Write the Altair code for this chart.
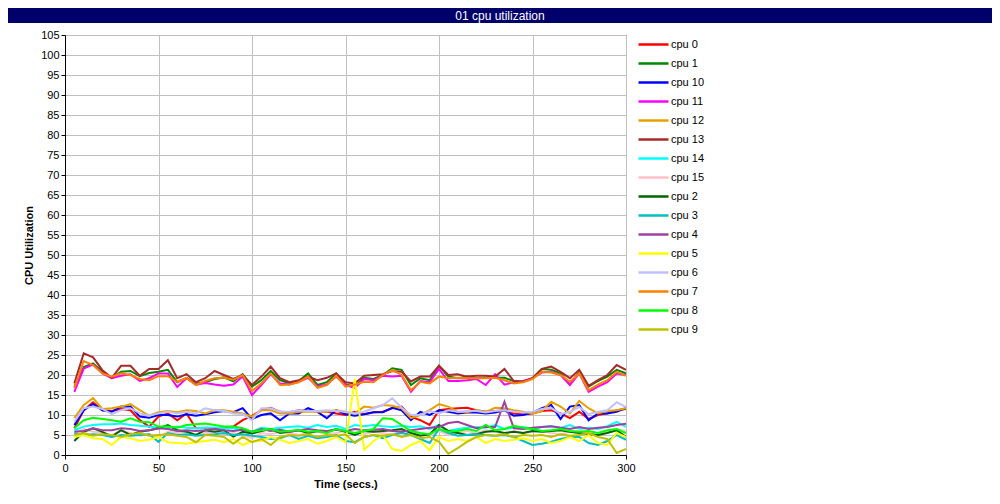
import altair as alt
import pandas as pd

time = list(range(5, 305, 5))

cpu13 = [17.9, 25.4, 24.4, 21.2, 19.3, 22.3, 22.3, 19.8, 21.5, 21.5, 23.7, 19.2, 20.2, 18.2, 19.2, 21.0, 20.0, 19.0, 20.0, 17.5,
         19.6, 22.1, 19.2, 18.2, 18.7, 19.6, 18.7, 19.3, 20.4, 18.2, 17.9, 19.8, 20.0, 20.2, 21.0, 20.8, 18.4, 19.6, 19.6, 22.3,
         20.0, 20.2, 19.6, 19.8, 19.8, 19.6, 21.5, 18.5, 18.3, 19.2, 21.5, 22.1, 20.8, 19.2, 21.3, 17.3, 18.7, 20.0, 22.5, 21.3]
cpu1 = [17.1, 22.0, 22.9, 20.8, 19.3, 20.8, 21.0, 19.7, 20.5, 20.8, 21.3, 18.2, 19.3, 17.9, 18.2, 19.0, 19.4, 18.4, 20.2, 17.1,
        18.7, 21.0, 18.7, 17.9, 18.5, 20.4, 17.5, 18.2, 20.4, 17.6, 17.1, 19.3, 19.0, 20.0, 21.7, 21.3, 17.5, 19.2, 18.7, 22.3,
        19.6, 19.2, 19.6, 19.2, 19.3, 19.3, 19.3, 18.5, 18.3, 19.2, 21.5, 21.3, 20.4, 17.6, 20.8, 17.1, 18.5, 19.6, 21.3, 20.4]
cpu11 = [15.8, 21.6, 22.6, 20.4, 19.2, 19.8, 20.2, 18.5, 19.2, 20.4, 20.4, 17.0, 19.2, 17.6, 18.0, 17.6, 17.3, 17.6, 19.6, 15.0,
         17.5, 20.2, 17.9, 17.6, 18.3, 19.3, 17.1, 17.6, 19.6, 17.5, 16.8, 19.0, 18.7, 19.8, 19.6, 19.8, 15.8, 18.5, 18.2, 21.5,
         18.5, 18.5, 18.7, 19.0, 17.5, 20.2, 17.6, 18.2, 18.5, 19.2, 20.6, 20.8, 20.0, 17.5, 20.4, 15.8, 17.1, 18.2, 20.4, 20.0]
cpu7 = [16.7, 23.5, 22.5, 20.4, 19.6, 20.4, 20.0, 19.0, 18.7, 19.7, 19.7, 18.3, 19.2, 17.5, 18.5, 19.2, 19.3, 18.8, 20.0, 16.0,
        17.9, 20.4, 17.5, 17.6, 18.2, 19.6, 16.8, 17.5, 19.8, 17.1, 17.6, 18.3, 18.2, 20.0, 21.3, 20.0, 16.2, 18.3, 17.9, 19.6,
        19.2, 19.3, 19.2, 19.2, 19.2, 19.3, 18.7, 17.9, 18.2, 19.0, 20.8, 20.6, 20.0, 18.3, 20.4, 16.2, 17.6, 18.7, 20.8, 19.8]
cpu0 = [6.7, 11.2, 13.2, 11.2, 11.0, 11.5, 11.2, 8.7, 7.1, 9.6, 10.4, 8.7, 10.4, 6.7, 6.8, 6.7, 6.7, 7.1, 8.7, 9.8,
        11.2, 11.8, 10.8, 10.7, 11.2, 11.0, 11.0, 10.8, 10.4, 10.0, 10.8, 10.2, 10.7, 10.8, 11.7, 12.1, 9.6, 8.7, 7.5, 11.2,
        11.5, 11.7, 11.8, 11.2, 10.8, 11.0, 11.2, 10.4, 10.2, 10.4, 11.0, 11.2, 10.4, 9.2, 10.8, 9.0, 10.0, 10.4, 11.2, 11.5]
cpu10 = [7.5, 11.2, 12.7, 11.2, 10.8, 12.1, 12.1, 9.6, 9.3, 10.0, 10.0, 9.6, 10.2, 9.8, 10.2, 10.7, 11.0, 10.7, 11.7, 9.0,
         10.0, 10.4, 8.7, 10.4, 10.4, 11.7, 10.8, 9.2, 11.2, 10.2, 9.8, 10.2, 10.7, 10.7, 11.8, 11.2, 8.7, 10.8, 10.0, 11.2,
         10.8, 10.4, 10.6, 10.6, 10.4, 10.6, 11.2, 9.8, 10.0, 10.6, 11.7, 12.5, 9.0, 12.1, 12.5, 8.7, 10.4, 10.4, 10.8, 11.8]
cpu12 = [9.2, 12.5, 14.2, 11.5, 11.7, 12.1, 12.7, 11.2, 9.8, 10.7, 11.0, 10.7, 11.2, 11.0, 10.4, 11.2, 11.2, 10.8, 10.4, 9.6,
         11.2, 11.2, 10.4, 10.4, 10.8, 10.8, 10.8, 10.8, 11.2, 10.8, 10.4, 12.1, 11.8, 12.5, 12.3, 11.7, 9.2, 10.0, 11.2, 12.7,
         12.1, 10.8, 10.7, 11.2, 10.8, 11.8, 11.7, 11.2, 10.8, 10.4, 11.0, 13.3, 12.1, 10.4, 13.5, 11.7, 10.4, 11.0, 11.2, 11.7]
cpu6 = [8.3, 11.7, 12.1, 11.5, 10.2, 11.2, 11.7, 10.4, 9.8, 10.4, 10.8, 10.4, 10.8, 10.4, 11.7, 11.2, 11.0, 10.4, 10.2, 8.7,
        11.7, 11.7, 10.8, 10.8, 11.2, 11.0, 11.0, 11.2, 11.0, 10.8, 10.4, 10.8, 11.7, 12.5, 14.2, 11.8, 10.0, 10.0, 11.0, 10.4,
        11.2, 10.8, 11.0, 11.0, 10.6, 11.0, 11.2, 10.8, 10.6, 10.8, 11.5, 11.8, 10.2, 10.8, 12.0, 10.2, 10.8, 11.2, 13.2, 12.0]
cpu8 = [6.7, 8.7, 9.3, 9.0, 8.7, 8.3, 9.2, 8.3, 8.2, 7.1, 7.1, 6.8, 7.5, 7.7, 7.9, 7.5, 7.1, 7.1, 6.7, 5.8,
        6.2, 6.5, 5.8, 6.0, 6.3, 5.8, 6.0, 5.5, 6.5, 6.0, 5.5, 6.0, 6.5, 9.2, 9.0, 7.5, 6.0, 5.5, 5.2, 6.5,
        5.8, 6.0, 6.5, 6.0, 7.5, 6.2, 6.5, 7.3, 6.8, 6.5, 6.0, 6.2, 6.5, 6.0, 5.8, 6.0, 5.5, 6.2, 6.5, 5.5]
cpu14 = [6.2, 7.1, 7.5, 7.7, 7.7, 7.9, 7.5, 7.3, 7.1, 6.8, 6.7, 7.1, 6.8, 6.7, 6.8, 6.8, 6.7, 6.7, 6.2, 5.8,
         6.8, 6.5, 6.8, 7.0, 7.2, 6.8, 7.5, 7.0, 7.3, 6.5, 7.5, 7.2, 7.5, 7.2, 7.0, 7.3, 7.0, 7.2, 6.5, 7.5,
         6.0, 6.5, 6.8, 7.0, 6.8, 7.5, 6.5, 6.8, 7.0, 6.5, 7.0, 7.2, 6.8, 7.5, 6.5, 6.8, 6.5, 7.2, 8.3, 7.0]
cpu2 = [3.5, 5.8, 6.7, 5.8, 4.6, 6.2, 5.0, 5.8, 6.2, 6.7, 7.5, 6.2, 5.8, 5.0, 6.2, 5.8, 6.2, 4.6, 5.8, 5.4,
        6.0, 6.5, 5.5, 5.8, 6.2, 5.5, 6.0, 5.8, 6.5, 5.8, 5.0, 6.0, 5.8, 6.0, 6.2, 6.5, 5.5, 4.8, 5.2, 7.5,
        6.0, 5.5, 5.0, 5.2, 5.8, 6.0, 5.5, 5.8, 5.5, 6.0, 5.8, 6.0, 6.2, 5.8, 5.5, 5.2, 5.0, 5.5, 6.2, 4.5]
cpu4 = [5.8, 6.0, 6.7, 6.2, 6.2, 6.7, 6.5, 6.0, 6.2, 6.7, 6.5, 6.0, 6.2, 6.0, 6.2, 6.5, 6.2, 6.0, 6.3, 5.8,
        6.5, 6.0, 6.3, 5.8, 6.2, 6.5, 6.2, 6.0, 6.3, 6.0, 6.5, 6.2, 6.3, 6.5, 6.0, 5.8, 6.2, 6.5, 6.8, 7.0,
        8.0, 8.3, 7.5, 6.7, 7.0, 7.0, 13.3, 6.7, 6.5, 6.8, 7.0, 7.2, 6.8, 6.5, 7.0, 6.5, 6.8, 7.0, 7.5, 7.8]
cpu3 = [5.4, 5.0, 5.2, 5.0, 4.5, 5.0, 4.8, 5.0, 5.2, 3.3, 5.5, 5.0, 5.2, 4.8, 5.0, 5.2, 5.5, 5.0, 5.2, 4.8,
        4.5, 4.0, 4.2, 5.0, 4.0, 4.8, 4.2, 4.5, 5.0, 3.5, 3.2, 4.5, 5.0, 4.2, 5.0, 5.5, 5.0, 4.0, 3.0, 6.5,
        5.5, 4.8, 5.0, 5.2, 5.0, 4.8, 5.0, 4.5, 3.5, 2.5, 2.8, 3.3, 4.0, 4.5, 4.5, 3.0, 2.5, 3.5, 5.0, 3.8]
cpu5 = [4.5, 5.0, 4.2, 4.0, 2.5, 4.5, 4.2, 3.5, 3.8, 4.5, 3.2, 3.0, 2.8, 3.2, 3.5, 3.8, 3.2, 4.0, 2.5, 3.5,
        3.5, 4.5, 3.8, 3.0, 3.5, 4.0, 2.8, 3.5, 4.5, 3.2, 19.0, 1.3, 3.5, 5.0, 1.5, 1.0, 2.5, 3.5, 1.2, 4.5,
        3.5, 4.0, 3.5, 4.5, 3.0, 4.0, 3.5, 3.8, 4.2, 3.5, 4.0, 3.0, 3.5, 4.5, 3.5, 5.0, 3.0, 2.5, 5.5, 4.5]
cpu15 = [5.5, 6.5, 5.8, 5.5, 5.0, 6.0, 5.5, 4.8, 5.2, 4.5, 5.8, 5.5, 6.0, 5.0, 5.5, 5.8, 5.2, 5.5, 5.0, 4.2,
         5.5, 5.2, 5.8, 5.5, 5.0, 5.5, 5.8, 5.2, 5.5, 6.0, 5.5, 5.2, 5.8, 5.5, 5.0, 6.0, 5.8, 5.2, 4.8, 6.0,
         5.0, 5.5, 6.0, 5.5, 6.2, 5.8, 5.2, 6.0, 5.5, 5.8, 6.0, 5.5, 5.2, 5.8, 6.2, 5.5, 5.0, 5.8, 6.5, 6.0]
cpu9 = [5.0, 5.5, 4.8, 5.2, 5.0, 4.5, 5.2, 5.5, 4.8, 5.0, 5.2, 4.8, 4.5, 3.2, 5.0, 4.8, 4.5, 2.8, 4.5, 3.2,
        4.0, 2.5, 4.5, 5.0, 4.8, 5.2, 4.5, 5.0, 4.8, 5.2, 3.0, 4.5, 5.0, 4.8, 5.2, 4.5, 5.0, 4.2, 4.5, 3.3,
        0.3, 1.7, 3.3, 4.5, 5.0, 4.8, 5.2, 4.5, 5.0, 4.8, 5.0, 4.5, 5.2, 4.8, 5.0, 5.5, 4.5, 4.0, 0.5, 1.5]

names = ["cpu 0", "cpu 1", "cpu 10", "cpu 11", "cpu 12", "cpu 13", "cpu 14", "cpu 15",
         "cpu 2", "cpu 3", "cpu 4", "cpu 5", "cpu 6", "cpu 7", "cpu 8", "cpu 9"]
colors = ["#FF0000", "#008800", "#0000FF", "#FF00FF", "#E8A000", "#A52A2A", "#00FFFF", "#FFC0CB",
          "#006400", "#00C0C0", "#A040A0", "#FFFF00", "#C0C0FF", "#FF8000", "#00FF00", "#C0C000"]
series = [cpu0, cpu1, cpu10, cpu11, cpu12, cpu13, cpu14, cpu15,
          cpu2, cpu3, cpu4, cpu5, cpu6, cpu7, cpu8, cpu9]

rows = []
for name, vals in zip(names, series):
    for t, v in zip(time, vals):
        rows.append({"time": t, "cpu": name, "util": v})
df = pd.DataFrame(rows)

FONT = "Liberation Sans"

lines = alt.Chart(df).mark_line(strokeWidth=2, clip=True).encode(
    x=alt.X("time:Q", scale=alt.Scale(domain=[0, 300], nice=False),
            axis=alt.Axis(values=[0, 50, 100, 150, 200, 250, 300], title="Time (secs.)",
                          labelFlush=False, labelPadding=3, titlePadding=5)),
    y=alt.Y("util:Q", scale=alt.Scale(domain=[0, 105], nice=False),
            axis=alt.Axis(values=list(range(0, 110, 5)), title="CPU Utilization",
                          labelPadding=2, titlePadding=6)),
    color=alt.Color("cpu:N", scale=alt.Scale(domain=names, range=colors),
                    legend=alt.Legend(title=None, orient="none", legendX=572, legendY=0,
                                      symbolType="stroke", symbolSize=900, symbolStrokeWidth=2.5,
                                      clipHeight=19, rowPadding=0, labelOffset=1, padding=0,
                                      labelFont=FONT, labelFontSize=11, labelColor="black")),
    order="cpu:N",
)

bar = alt.Chart(alt.Data(values=[{"k": 1}])).mark_rect(color="#00006B").encode(
    x=alt.value(-57), x2=alt.value(927), y=alt.value(-27), y2=alt.value(-12)
)
title_text = alt.Chart(alt.Data(values=[{"k": 1}])).mark_text(
    color="white", fontSize=12, font=FONT, baseline="middle", align="center"
).encode(x=alt.value(435), y=alt.value(-19.5), text=alt.value("01 cpu utilization"))

chart = alt.layer(bar, title_text, lines).properties(
    width=561, height=420,
    padding={"left": 57, "top": 27, "right": 366, "bottom": 41},
    autosize=alt.AutoSizeParams(type="none"),
    background="white",
).configure_view(stroke="black", strokeWidth=1).configure_axis(
    labelFont=FONT, labelFontSize=11, labelColor="black",
    titleFont=FONT, titleFontSize=11, titleFontWeight="bold", titleColor="black",
    domainColor="black", tickColor="black", tickSize=4,
    gridColor="#C0C0C0", gridWidth=1,
)

chart.save("out.html", embed_options={"renderer": "svg", "actions": False})
